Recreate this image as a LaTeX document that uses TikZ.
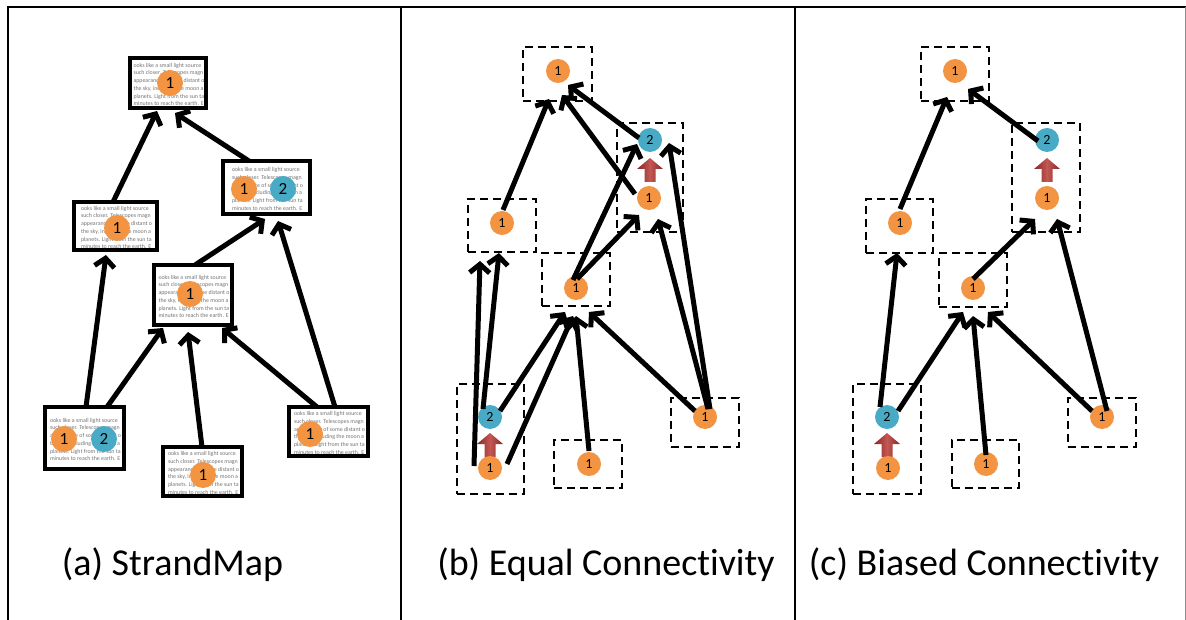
\documentclass[tikz,border=0pt]{standalone}
\usepackage{fontspec}
\setmainfont{Carlito}[Ligatures={NoCommon}]
\usetikzlibrary{arrows.meta,calc}

\definecolor{dotorange}{RGB}{242,148,66}
\definecolor{dotblue}{RGB}{72,170,196}
\definecolor{liftred}{RGB}{135,38,38}
\definecolor{liftredlight}{RGB}{195,88,84}

% a few lines of page text shown inside each document box
\newcommand{\pagelines}{%
ooks like a small light source\\
such closer. Telescopes magn\\
appearance of some distant o\\
the sky, including the moon a\\
planets. Light from the sun ta\\
minutes to reach the earth. E}

\tikzset{
  link/.style={line width=5pt, -{Straight Barb[length=8.5pt,width=20pt]}},
  pagebox/.style={draw, line width=3.8pt, inner sep=0pt, outer sep=0pt,
    path picture={\node[anchor=north west, inner sep=0pt, align=left,
      text=black!55, font=\fontsize{5.9}{7.7}\selectfont]
      at ([shift={(1pt,-1.5pt)}]path picture bounding box.north west) {\pagelines};}},
  groupbox/.style={draw, line width=1.6pt, dash pattern=on 8pt off 5pt,
    inner sep=0pt, outer sep=0pt},
  numdot/.style={circle, inner sep=0pt, minimum size=24pt, text=black,
    font=\fontsize{14}{14}\selectfont},
  bignumdot/.style={numdot, minimum size=26pt, font=\fontsize{17}{17}\selectfont},
  ndone/.style={fill=dotorange},
  ndtwo/.style={fill=dotblue},
  panelcaption/.style={anchor=base, inner sep=0pt, font=\fontsize{38}{40}\selectfont},
  lift/.pic={
    \path[left color=liftred, right color=liftred, middle color=liftredlight]
      (0,-12) -- (13,-1) -- (5.5,-1) -- (5.5,12) -- (-5.5,12) -- (-5.5,-1)
      -- (-13,-1) -- cycle;
  }
}

\begin{document}
\begin{tikzpicture}[x=1pt, y=-1pt]
\useasboundingbox (0,0) rectangle (1186,620);

% frame and panel dividers
\draw[line width=2pt] (8,620) -- (8,7) -- (1186,7);
\draw[line width=1.2pt] (401,7) -- (401,620);
\draw[line width=1.2pt] (795,7) -- (795,620);
\draw[black!45, line width=1pt] (1185,7) -- (1185,620);

% ---------------- (a) StrandMap ----------------
\node[pagebox, minimum width=76pt, minimum height=50pt] (a1) at (168,83) {};
\node[pagebox, minimum width=83pt, minimum height=48pt] (a2) at (115.5,226) {};
\node[pagebox, minimum width=87pt, minimum height=53pt] (a3) at (266.5,187.5) {};
\node[pagebox, minimum width=78pt, minimum height=60pt] (a4) at (193,295) {};
\node[pagebox, minimum width=79pt, minimum height=62pt] (a5) at (84.5,438) {};
\node[pagebox, minimum width=79pt, minimum height=49pt] (a6) at (202.5,471.5) {};
\node[pagebox, minimum width=79pt, minimum height=49pt] (a7) at (328.5,431.5) {};

\node[bignumdot, ndone] (a1o) at (170,83) {1};
\node[bignumdot, ndone] (a2o) at (117,228) {1};
\node[bignumdot, ndone] (a3o) at (244,189) {1};
\node[bignumdot, ndtwo] (a3t) at (283,189) {2};
\node[bignumdot, ndone] (a4o) at (190,294) {1};
\node[bignumdot, ndone] (a5o) at (64,439) {1};
\node[bignumdot, ndtwo] (a5t) at (104,439) {2};
\node[bignumdot, ndone] (a6o) at (203,475) {1};
\node[bignumdot, ndone] (a7o) at (310,434) {1};

\draw[link] ($(a2.north)+(-2.5,0)$) -- ($(a1.south)+(-11,3)$);
\draw[link] ($(a3.north)+(-17.5,0)$) -- ($(a1.south)+(7,5)$);
\draw[link] ($(a5.north)+(1.5,0)$) -- ($(a2.south)+(-9.5,5)$);
\draw[link] ($(a5.north)+(22.5,0)$) -- ($(a4.south)+(-30,3)$);
\draw[link] ($(a6.north)+(-0.5,0)$) -- ($(a4.south)+(-5,7)$);
\draw[link] ($(a7.north)+(-11.5,0)$) -- ($(a4.south)+(29,3)$);
\draw[link] ($(a7.north)+(6.5,0)$) -- ($(a3.south)+(11.5,7)$);
\draw[link] ($(a4.north)+(2,0)$) -- ($(a3.south)+(-1.5,5)$);

\node[panelcaption] (capa) at (172.5,575) {(a) StrandMap};

% ---------------- (b) Equal Connectivity ----------------
\node[groupbox, minimum width=69pt, minimum height=54pt] (b1) at (557.5,74) {};
\node[groupbox, minimum width=68pt, minimum height=53pt] (b2) at (502,225.5) {};
\node[groupbox, minimum width=66pt, minimum height=109pt] (b3) at (650,177.5) {};
\node[groupbox, minimum width=68pt, minimum height=53pt] (b4) at (576,279.5) {};
\node[groupbox, minimum width=67pt, minimum height=110pt] (b5) at (490.5,439) {};
\node[groupbox, minimum width=68pt, minimum height=48pt] (b6) at (588,464) {};
\node[groupbox, minimum width=68pt, minimum height=49pt] (b7) at (705,422.5) {};

\pic at (650,170) {lift};
\pic at (490,445) {lift};

\node[numdot, ndone] (b1c) at (558,71) {1};
\node[numdot, ndone] (b2c) at (502,223) {1};
\node[numdot, ndtwo] (b3two) at (650,140) {2};
\node[numdot, ndone] (b3one) at (649,198) {1};
\node[numdot, ndone] (b4c) at (576,288) {1};
\node[numdot, ndtwo] (b5two) at (490,417) {2};
\node[numdot, ndone] (b5one) at (490,468) {1};
\node[numdot, ndone] (b6c) at (589,464) {1};
\node[numdot, ndone] (b7c) at (705,417) {1};

\draw[link] ($(b2c)+(1,-13)$) -- ($(b1c)+(-9,28)$);
\draw[link] ($(b3one)+(-14,-4)$) -- ($(b1c)+(4,24)$);
\draw[link] ($(b3two)+(-11,-2)$) -- ($(b1c)+(10,14)$);
\draw[link] ($(b4c)+(-3,-8)$) -- ($(b3two)+(-13,4)$);
\draw[link] ($(b4c)+(1,-9)$) -- ($(b3one)+(-10,17)$);
\draw[link] ($(b7c)+(5,-8)$) -- ($(b3two)+(19,3)$);
\draw[link] ($(b7c)+(3,-8)$) -- ($(b3one)+(9,21)$);
\draw[link] ($(b7c)+(-10,-6)$) -- ($(b4c)+(13,24)$);
\draw[link] ($(b6c)+(0,-13)$) -- ($(b4c)+(0,28)$);
\draw[link] ($(b5two)+(10,-6)$) -- ($(b4c)+(-11,24)$);
\draw[link] ($(b5one)+(17,-4)$) -- ($(b4c)+(-3,28)$);
\draw[link] ($(b5one)+(-16,-2)$) -- ($(b2c)+(-22,38)$);
\draw[link] ($(b5two)+(-7,-8)$) -- ($(b2c)+(-3,30)$);

\node[panelcaption] (capb) at (606,575) {(b) Equal Connectivity};

% ---------------- (c) Biased Connectivity ----------------
\node[groupbox, minimum width=68pt, minimum height=54pt] (c1) at (955,74) {};
\node[groupbox, minimum width=67pt, minimum height=54pt] (c2) at (899.5,226) {};
\node[groupbox, minimum width=68pt, minimum height=109pt] (c3) at (1046,177.5) {};
\node[groupbox, minimum width=68pt, minimum height=54pt] (c4) at (973,280) {};
\node[groupbox, minimum width=68pt, minimum height=110pt] (c5) at (887,439) {};
\node[groupbox, minimum width=67pt, minimum height=48pt] (c6) at (985.5,464) {};
\node[groupbox, minimum width=68pt, minimum height=49pt] (c7) at (1102,422.5) {};

\pic at (1047,170) {lift};
\pic at (887,445) {lift};

\node[numdot, ndone] (c1c) at (955,71) {1};
\node[numdot, ndone] (c2c) at (900,223) {1};
\node[numdot, ndtwo] (c3two) at (1047,140) {2};
\node[numdot, ndone] (c3one) at (1047,198) {1};
\node[numdot, ndone] (c4c) at (973,288) {1};
\node[numdot, ndtwo] (c5two) at (887,417) {2};
\node[numdot, ndone] (c5one) at (888,468) {1};
\node[numdot, ndone] (c6c) at (986,464) {1};
\node[numdot, ndone] (c7c) at (1102,417) {1};

\draw[link] ($(c2c)+(0,-14)$) -- ($(c1c)+(-8,26)$);
\draw[link] ($(c3two)+(-9,1)$) -- ($(c1c)+(13,18)$);
\draw[link] ($(c4c)+(0,-9)$) -- ($(c3one)+(-12,21)$);
\draw[link] ($(c7c)+(5,-6)$) -- ($(c3one)+(10,21)$);
\draw[link] ($(c7c)+(-10,-6)$) -- ($(c4c)+(15,24)$);
\draw[link] ($(c6c)+(0,-9)$) -- ($(c4c)+(0,28)$);
\draw[link] ($(c5two)+(11,-6)$) -- ($(c4c)+(-10,24)$);
\draw[link] ($(c5two)+(-7,-10)$) -- ($(c2c)+(-3,30)$);

\node[panelcaption] (capc) at (984,575) {(c) Biased Connectivity};

\end{tikzpicture}
\end{document}
